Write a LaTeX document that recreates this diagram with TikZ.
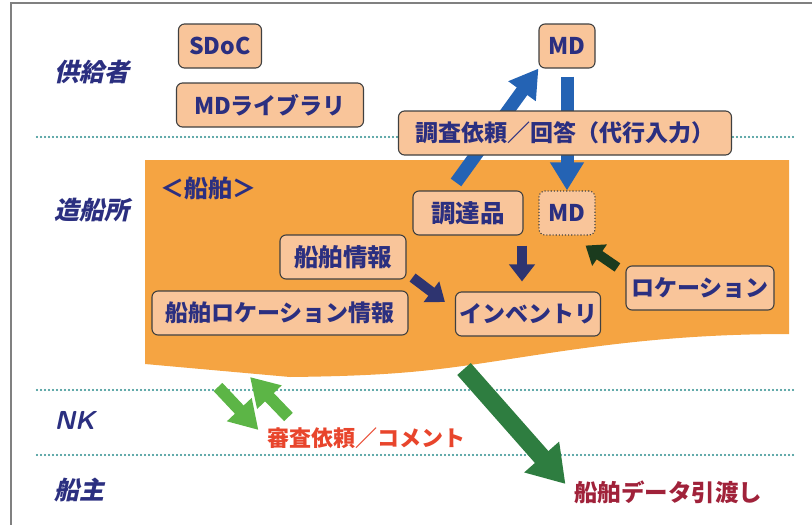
\documentclass[tikz,border=0pt]{standalone}
\usepackage{fontspec}
\setmainfont{Noto Sans CJK JP}
\newfontfamily\slantjp[FakeSlant=0.22]{Noto Sans CJK JP}
\usepackage{tikz}
\usetikzlibrary{arrows.meta,backgrounds,calc}
\definecolor{navytext}{HTML}{2B2F80}
\definecolor{boxfill}{HTML}{F9C59A}
\definecolor{shiporange}{HTML}{F5A442}
\definecolor{lineteal}{HTML}{2A8C8C}
\definecolor{flowblue}{HTML}{2463B4}
\definecolor{flownavy}{HTML}{2E3470}
\definecolor{flowdark}{HTML}{1B3B1E}
\definecolor{flowlight}{HTML}{5CB546}
\definecolor{flowgreen}{HTML}{2E7D40}
\definecolor{reviewred}{HTML}{E8452C}
\definecolor{handred}{HTML}{A0223A}
\pgfdeclarelayer{back}
\pgfsetlayers{back,background,main}
\tikzset{
  itembox/.style={draw=black!75, fill=boxfill, rounded corners=6pt, line width=1.1pt,
    text=navytext, font=\bfseries\fontsize{23}{25}\selectfont, minimum height=44pt, inner sep=0pt},
  party/.style={anchor=west, text=navytext, font=\slantjp\bfseries\fontsize{25}{27}\selectfont},
  layerline/.style={lineteal, line width=2.2pt, line cap=round, dash pattern=on 0pt off 4pt},
  flowbig/.style={line width=13pt, -{Triangle[length=28pt,width=32pt]}},
  flowsmall/.style={line width=10pt, -{Triangle[length=17pt,width=25pt]}},
}

\begin{document}
\begin{tikzpicture}[x=1pt,y=-1pt]
\useasboundingbox (0,0) rectangle (812,525);
\draw[gray, line width=1.5pt] (11,525) -- (11,3) -- (812,3);

% parties
\node[party] (supplier) at (51,72) {供給者};
\node[party] (yard) at (51,210) {造船所};
\node[party, font=\sffamily\itshape\bfseries\fontsize{26}{28}\selectfont] (nk) at (51,420) {NK};
\node[party] (owner) at (51,490) {船主};

\begin{pgfonlayer}{back}
\fill[shiporange] (145,160) -- (789,160) -- (789,334)
  .. controls (650,334) and (560,352) .. (470,365)
  .. controls (420,372) and (380,376) .. (290,377) -- (145,364) -- cycle;
\foreach \y in {137,390,455}
  \draw[layerline] (37,\y) -- (795,\y);
\end{pgfonlayer}

% boxes
\node[itembox, minimum width=83pt] (sdoc) at (220,46) {SDoC};
\node[itembox, minimum width=187pt] (mdlib) at (270,105) {MDライブラリ};
\node[itembox, minimum width=56pt] (mdtop) at (567,46) {MD};
\node[itembox, minimum width=333pt] (request) at (565,133) {調査依頼／回答（代行入力）};
\node[text=navytext, font=\bfseries\fontsize{24}{26}\selectfont] (ship) at (208,188) {＜船舶＞};
\node[itembox, minimum width=110pt, font=\bfseries\fontsize{24.5}{26}\selectfont] (chotatsu) at (468,213) {調達品};
\node[itembox, minimum width=56pt, dotted] (mdship) at (567,213) {MD};
\node[itembox, minimum width=126pt, font=\bfseries\fontsize{24.5}{26}\selectfont] (shipinfo) at (343,257) {船舶情報};
\node[itembox, minimum width=256pt] (shiploc) at (280,313) {船舶ロケーション情報};
\node[itembox, minimum width=145pt] (inventory) at (528,314) {インベントリ};
\node[itembox, minimum width=148pt] (location) at (700,288) {ロケーション};

\node[text=reviewred, font=\bfseries\fontsize{22}{24}\selectfont] (review) at (366,438) {審査依頼／コメント};
\node[text=handred, font=\bfseries\fontsize{23.5}{25}\selectfont] (handover) at (668,492) {船舶データ引渡し};

\coordinate (reviewout) at (218,387);
\coordinate (reviewback) at (250,377);
\coordinate (handout) at (464,369);

% arrows
\begin{pgfonlayer}{background}
\draw[flowbig, flowblue] ([shift={(-12pt,8pt)}]chotatsu.north) -- (mdtop.south west);
\draw[flowbig, flowblue] ([yshift=-8pt]mdtop.south) -- (mdship.north);
\end{pgfonlayer}
\draw[flowsmall, flownavy] ([shift={(54pt,-10pt)}]chotatsu.south) -- ([shift={(-6pt,10pt)}]inventory.north);
\draw[flowsmall, flownavy] ([shift={(6pt,2pt)}]shipinfo.south east) -- ([shift={(-10pt,12pt)}]inventory.west);
\draw[flowsmall, flowdark] ([shift={(-8pt,-2pt)}]location.north west) -- ([shift={(-10pt,-10pt)}]mdship.south east);
\draw[flowbig, flowlight, line width=12pt] (reviewout) -- ([shift={(-5pt,8pt)}]review.west);
\draw[flowbig, flowlight, line width=12pt] ([shift={(25pt,21pt)}]review.west) -- (reviewback);
\draw[flowgreen, line width=18pt, -{Triangle[length=36pt,width=44pt]}] (handout) -- ([shift={(-5pt,8pt)}]handover.west);
\end{tikzpicture}
\end{document}
